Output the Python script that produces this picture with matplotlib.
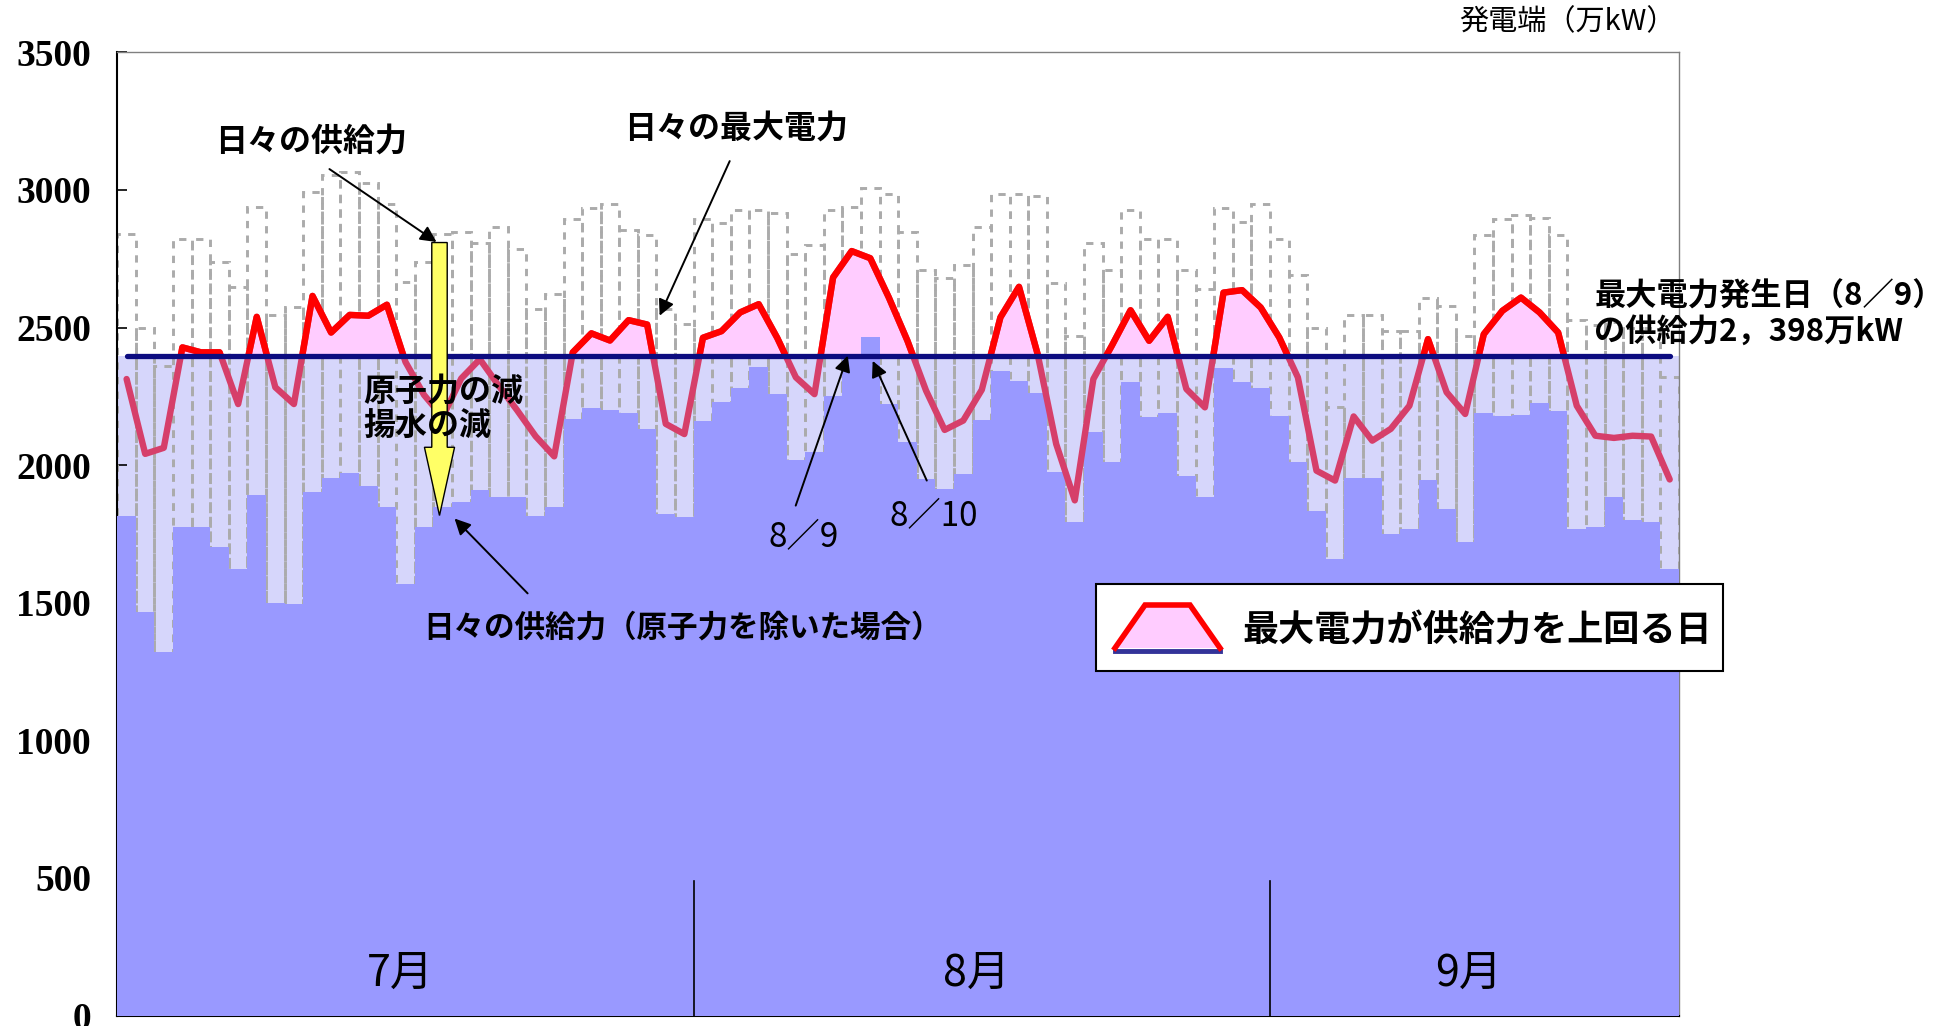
import matplotlib
matplotlib.use("Agg")
import matplotlib.pyplot as plt
from matplotlib.patches import Rectangle, Polygon, FancyArrow
from matplotlib.lines import Line2D

plt.rcParams["font.family"] = ["Noto Sans CJK JP", "DejaVu Sans"]

# daily values, 7/1 - 9/22, 万kW
supply_no_nuclear = [
    1817, 1467, 1321, 1777, 1777, 1702, 1624, 1893, 1499, 1497, 1902, 1954,
    1972, 1926, 1847, 1569, 1775, 1847, 1866, 1910, 1884, 1886, 1817, 1847,
    2168, 2208, 2200, 2191, 2132, 1821, 1811,
    2162, 2228, 2279, 2355, 2258, 2020, 2047, 2252, 2398, 2466, 2224, 2084,
    1950, 1914, 1968, 2163, 2343, 2306, 2264, 1974, 1793, 2119, 2011, 2301,
    2174, 2190, 1962, 1884, 2353, 2301, 2280,
    2180, 2011, 1833, 1660, 1955, 1955, 1751, 1768, 1947, 1839, 1720, 2190,
    2180, 2184, 2225, 2198, 1769, 1777, 1884, 1799, 1793, 1624,
]
supply_total = [
    2839, 2497, 2359, 2821, 2823, 2740, 2648, 2938, 2546, 2576, 2994, 3056,
    3065, 3026, 2948, 2667, 2738, 2840, 2848, 2809, 2865, 2787, 2567, 2621,
    2896, 2935, 2948, 2855, 2836, 2567, 2512,
    2896, 2881, 2929, 2927, 2915, 2769, 2800, 2929, 2938, 3008, 2986, 2848,
    2708, 2679, 2728, 2865, 2986, 2986, 2978, 2663, 2470, 2808, 2708, 2929,
    2823, 2823, 2708, 2639, 2935, 2885, 2948,
    2823, 2690, 2497, 2210, 2546, 2546, 2488, 2488, 2606, 2577, 2470, 2836,
    2893, 2909, 2897, 2836, 2527, 2510, 2520, 2500, 2500, 2319,
]
max_demand = [
    2313, 2041, 2063, 2428, 2410, 2410, 2222, 2539, 2283, 2222, 2615, 2482,
    2546, 2543, 2583, 2375, 2255, 2175, 2315, 2385, 2290, 2200, 2105, 2032,
    2410, 2479, 2453, 2527, 2511, 2150, 2113,
    2463, 2487, 2555, 2585, 2462, 2319, 2258, 2682, 2778, 2752, 2609, 2452,
    2271, 2128, 2162, 2274, 2537, 2648, 2404, 2077, 1872, 2313, 2435, 2563,
    2452, 2539, 2277, 2210, 2627, 2636, 2573,
    2464, 2319, 1980, 1944, 2177, 2089, 2132, 2216, 2458, 2265, 2186, 2476,
    2561, 2609, 2555, 2482, 2216, 2107, 2099, 2107, 2104, 1948,
]
peak_day_supply = 2398  # 8/9

months = ["7月", "8月", "9月"]
month_days = [31, 31, 22]
yticks = [0, 500, 1000, 1500, 2000, 2500, 3000, 3500]

blue = "#9999ff"
lavender = "#d6d6fb"
pink = "#ffccff"
crimson = "#d63f6a"
navy = "#0c0c80"
dash_gray = "#ababab"

W, H = 1948, 1026
fig = plt.figure(figsize=(W / 100, H / 100), dpi=100)
ax = fig.add_axes([117.3 / W, 10.5 / H, (1679 - 117.3) / W, (1015.5 - 52.4) / H])

n = len(max_demand)
x = list(range(n))
xc = [i + 0.5 for i in x]

ax.axhspan(0, peak_day_supply, color=lavender, lw=0, zorder=1)
ax.bar(x, supply_total, width=1.0, align="edge", fill=False,
       edgecolor=dash_gray, linestyle=(0, (2.5, 2.5)), lw=2.1, zorder=2)
ax.fill_between(xc, max_demand, peak_day_supply,
                where=[d > peak_day_supply for d in max_demand],
                interpolate=True, color=pink, lw=0, zorder=3)
ax.bar(x, supply_no_nuclear, width=1.0, align="edge", color=blue, lw=0, zorder=4)

ax.plot(xc, max_demand, color=crimson, lw=4.6, solid_joinstyle="round",
        solid_capstyle="round", zorder=6)
hi, = ax.plot(xc, max_demand, color="red", lw=4.6, solid_joinstyle="round", zorder=7)
hi.set_clip_path(Rectangle((0, peak_day_supply), n, 2000, transform=ax.transData))

ax.plot([xc[0], xc[-1]], [peak_day_supply] * 2, color=navy, lw=3.8,
        solid_capstyle="round", zorder=8)

# month separators and labels
start = 0
for m, d in zip(months, month_days):
    ax.text(start + d / 2 - 0.3, 150, m, fontsize=31, ha="center", va="center", zorder=10)
    start += d
    if start < n:
        ax.plot([start, start], [0, 490], color="black", lw=1.2, zorder=5)

ax.set_xlim(0, n)
ax.set_ylim(0, 3500)
ax.set_xticks([])
ax.set_yticks(yticks)
ax.set_yticklabels([str(v) for v in yticks], fontfamily="Liberation Serif",
                   fontweight="bold", fontsize=27)
ax.tick_params(axis="y", direction="in", length=7, width=1.2, pad=19)
for s in ["top", "right"]:
    ax.spines[s].set_color("#808080")
    ax.spines[s].set_linewidth(1.0)
for s in ["left", "bottom"]:
    ax.spines[s].set_color("black")
    ax.spines[s].set_linewidth(1.5)

# yellow arrow: reduction of nuclear and pumped storage
ax.add_patch(FancyArrow(17.33, 2809, 0, 1817 - 2809, width=0.83, head_width=1.62,
                        head_length=248, length_includes_head=True,
                        fc="#ffff66", ec="black", lw=1.0, zorder=9))

arrow = dict(arrowstyle="-|>", color="black", lw=1.4, mutation_scale=24,
             shrinkA=0, shrinkB=0)
lab = dict(fontsize=23, fontweight="bold", zorder=11)

ax.text(10.44, 3177, "日々の供給力", ha="center", va="center", **lab)
ax.annotate("", xy=(17.17, 2811), xytext=(11.41, 3076), arrowprops=arrow, zorder=11)

ax.text(33.26, 3225, "日々の最大電力", ha="center", va="center", **lab)
ax.annotate("", xy=(29.17, 2543), xytext=(32.94, 3105), arrowprops=arrow, zorder=11)

ax.text(13.24, 2203, "原子力の減\n揚水の減", ha="left", va="center",
        linespacing=1.15, **lab)

ax.text(30.4, 1411, "日々の供給力（原子力を除いた場合）", ha="center", va="center",
        fontsize=22, fontweight="bold", zorder=11)
ax.annotate("", xy=(18.14, 1806), xytext=(22.07, 1534), arrowprops=arrow, zorder=11)

ax.text(36.9, 1737, "8／9", ha="center", va="center", fontsize=24, zorder=11)
ax.annotate("", xy=(39.29, 2398), xytext=(36.49, 1853), arrowprops=arrow, zorder=11)
ax.text(43.9, 1814, "8／10", ha="center", va="center", fontsize=24, zorder=11)
ax.annotate("", xy=(40.63, 2379), xytext=(43.54, 1944), arrowprops=arrow, zorder=11)

ax.text(79.44, 2548, "最大電力発生日（8／9）\nの供給力2，398万kW", ha="left",
        va="center", linespacing=1.15, fontsize=22.5, fontweight="bold", zorder=11)

fig.text(1676 / W, 1 - 22 / H, "発電端（万kW）", ha="right", va="center", fontsize=21)

# legend box
def fp(px, py):
    return (px / W, 1 - py / H)

box = Rectangle(fp(1096, 671), (1723 - 1096) / W, (671 - 584) / H,
                transform=fig.transFigure, fc="white", ec="black", lw=1.5, zorder=20)
fig.add_artist(box)
trap = [fp(1115, 648), fp(1145, 605), fp(1190, 605), fp(1220, 648)]
fig.add_artist(Polygon(trap, closed=True, transform=fig.transFigure,
                       fc=pink, ec="none", zorder=21))
base = [fp(1115, 651), fp(1220, 651)]
fig.add_artist(Line2D([p[0] for p in base], [p[1] for p in base],
                      transform=fig.transFigure, color="#333399", lw=3.5, zorder=22))
fig.add_artist(Line2D([p[0] for p in trap], [p[1] for p in trap],
                      transform=fig.transFigure, color="red", lw=4,
                      solid_joinstyle="miter", zorder=23))
fig.text(1242 / W, 1 - 631 / H, "最大電力が供給力を上回る日", ha="left", va="center",
         fontsize=26, fontweight="bold", zorder=24)

fig.savefig("out.png", dpi=100)
